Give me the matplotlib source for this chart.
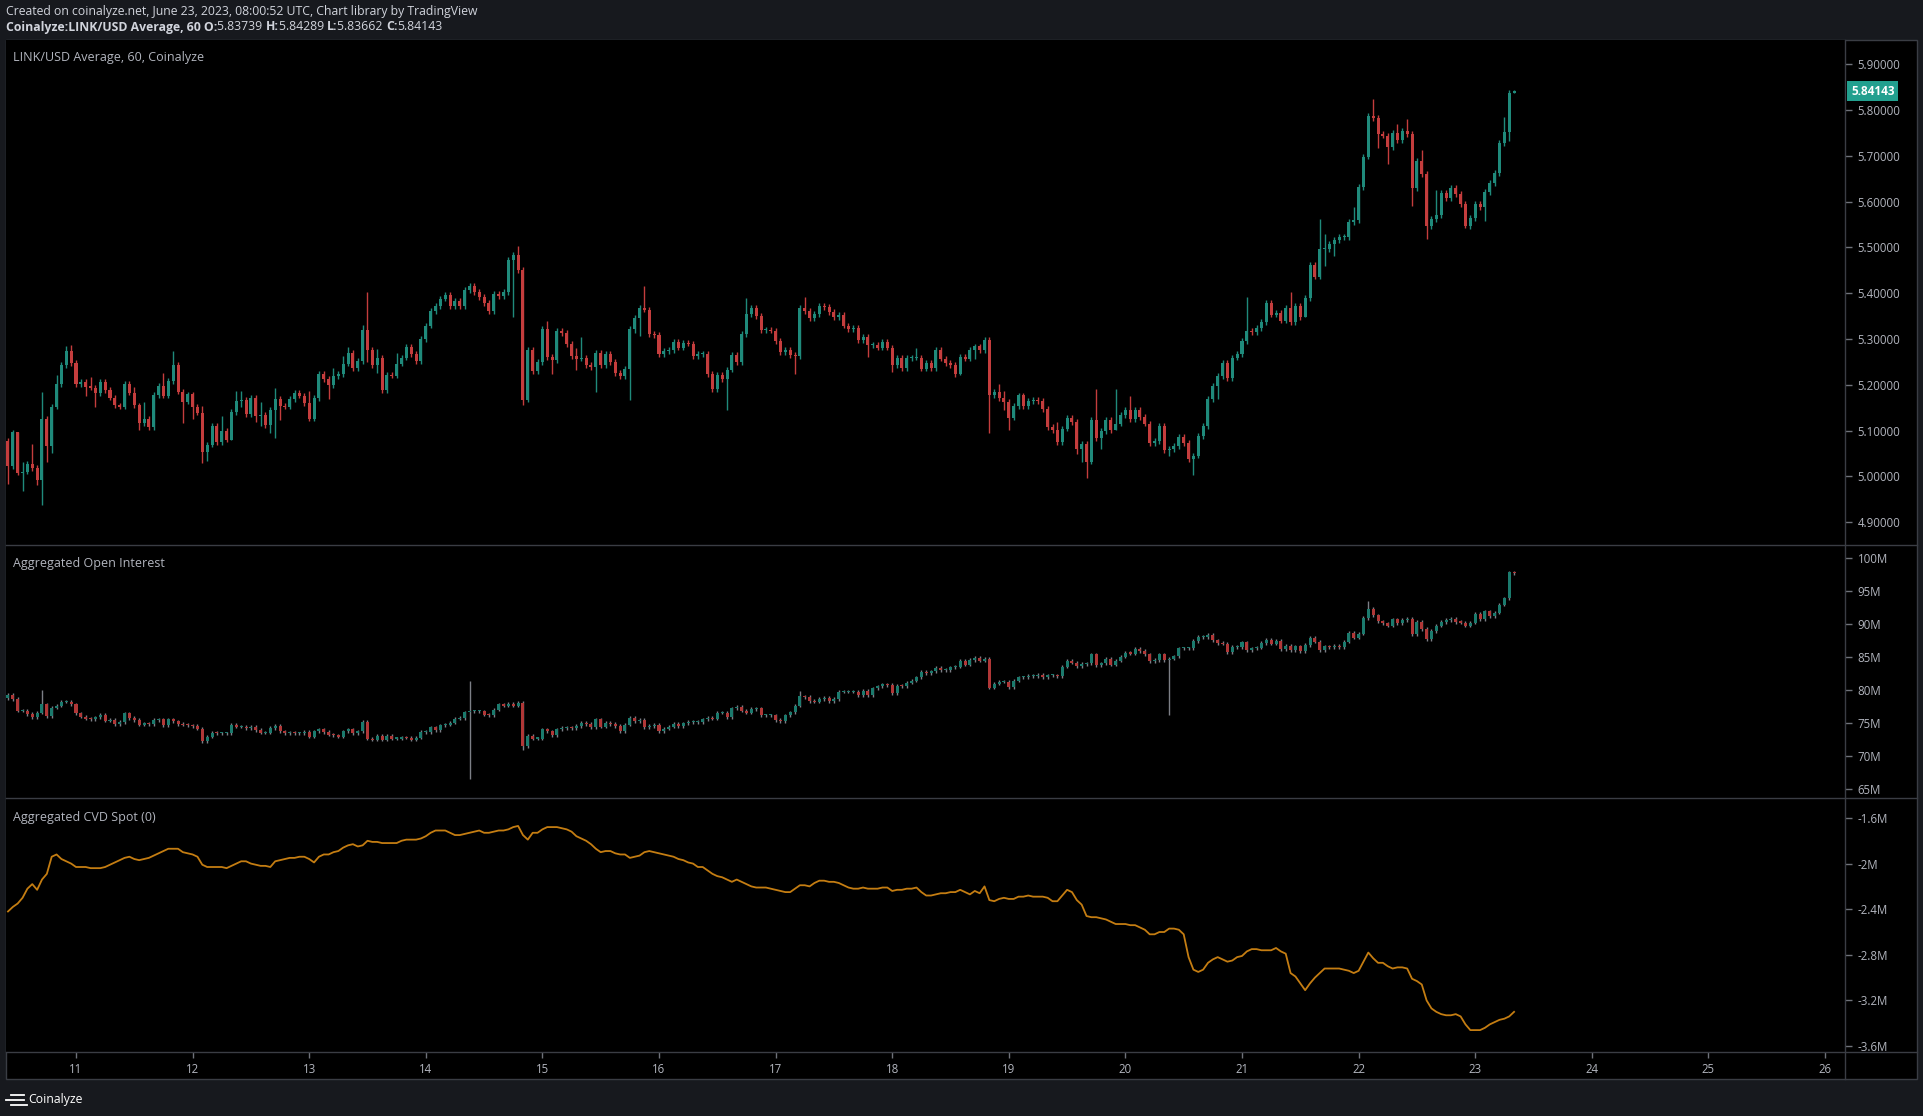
import numpy as np
import matplotlib.pyplot as plt
from matplotlib.patches import Rectangle
from matplotlib.lines import Line2D
from matplotlib.transforms import blended_transform_factory

plt.rcParams['font.family'] = ['Open Sans', 'DejaVu Sans']

# hourly bars, first one June 10 10:00 UTC, last one June 23 08:00 UTC
start_day = 10 + 10 / 24

# LINK/USD closes, one row per day
price_open0 = 5.077
price_close = [
    5.023, 5.096, 5.008, 5.010, 5.027, 5.018, 4.991, 5.125, 5.067, 5.152, 5.202, 5.243, 5.274, 5.247,
    5.202, 5.206, 5.196, 5.194, 5.181, 5.206, 5.189, 5.172, 5.155, 5.152, 5.202, 5.183, 5.155, 5.117, 5.126, 5.108, 5.178, 5.197, 5.176, 5.208, 5.243, 5.185, 5.163, 5.179,
    5.152, 5.139, 5.054, 5.069, 5.110, 5.074, 5.100, 5.080, 5.141, 5.165, 5.167, 5.136, 5.171, 5.131, 5.135, 5.112, 5.145, 5.169, 5.154, 5.152, 5.169, 5.182, 5.176, 5.160,
    5.126, 5.171, 5.224, 5.213, 5.200, 5.219, 5.224, 5.246, 5.270, 5.237, 5.252, 5.320, 5.276, 5.243, 5.259, 5.189, 5.222, 5.220, 5.246, 5.259, 5.283, 5.267, 5.252, 5.300,
    5.329, 5.361, 5.372, 5.388, 5.396, 5.372, 5.383, 5.372, 5.407, 5.416, 5.403, 5.392, 5.379, 5.361, 5.398, 5.394, 5.403, 5.473, 5.484, 5.451, 5.167, 5.276, 5.229, 5.250,
    5.322, 5.261, 5.254, 5.318, 5.313, 5.289, 5.263, 5.257, 5.259, 5.243, 5.239, 5.270, 5.243, 5.268, 5.250, 5.226, 5.219, 5.235, 5.322, 5.346, 5.368, 5.364, 5.311, 5.309,
    5.267, 5.274, 5.276, 5.293, 5.281, 5.291, 5.290, 5.263, 5.267, 5.267, 5.224, 5.191, 5.221, 5.213, 5.233, 5.265, 5.250, 5.311, 5.354, 5.368, 5.350, 5.320, 5.320, 5.318,
    5.296, 5.272, 5.276, 5.265, 5.263, 5.368, 5.361, 5.346, 5.355, 5.372, 5.370, 5.359, 5.348, 5.353, 5.329, 5.322, 5.324, 5.298, 5.304, 5.287, 5.287, 5.281, 5.293, 5.281,
    5.243, 5.259, 5.237, 5.258, 5.259, 5.259, 5.235, 5.247, 5.237, 5.276, 5.257, 5.248, 5.243, 5.224, 5.261, 5.257, 5.276, 5.284, 5.276, 5.298, 5.178, 5.184, 5.171, 5.163,
    5.128, 5.154, 5.177, 5.154, 5.165, 5.167, 5.165, 5.147, 5.108, 5.101, 5.075, 5.104, 5.128, 5.119, 5.060, 5.071, 5.032, 5.123, 5.084, 5.099, 5.124, 5.101, 5.115, 5.134,
    5.145, 5.125, 5.145, 5.130, 5.115, 5.073, 5.077, 5.110, 5.058, 5.060, 5.066, 5.086, 5.073, 5.038, 5.045, 5.088, 5.110, 5.169, 5.198, 5.219, 5.248, 5.215, 5.259, 5.267,
    5.296, 5.318, 5.315, 5.324, 5.337, 5.379, 5.353, 5.357, 5.340, 5.368, 5.337, 5.372, 5.348, 5.390, 5.462, 5.436, 5.497, 5.497, 5.508, 5.516, 5.523, 5.523, 5.556, 5.560,
    5.632, 5.698, 5.787, 5.783, 5.748, 5.744, 5.719, 5.750, 5.735, 5.754, 5.748, 5.630, 5.689, 5.660, 5.547, 5.562, 5.571, 5.619, 5.608, 5.630, 5.617, 5.595, 5.547, 5.564,
    5.595, 5.588, 5.621, 5.641, 5.663, 5.728, 5.752, 5.83739, 5.84143,
]
# long wicks (bar index -> value)
price_high = {2: 5.093, 3: 5.032, 5: 5.071, 7: 5.184, 10: 5.222, 12: 5.285, 13: 5.287, 17: 5.218,
              26: 5.195, 28: 5.163, 32: 5.226, 34: 5.274, 40: 5.154, 44: 5.132, 47: 5.187, 48: 5.187,
              52: 5.163, 55: 5.193, 62: 5.187, 67: 5.237, 69: 5.263, 70: 5.283, 73: 5.331, 74: 5.403,
              76: 5.278, 80: 5.270, 105: 5.503, 111: 5.339, 117: 5.280, 118: 5.305, 131: 5.416,
              152: 5.390, 164: 5.392, 187: 5.281, 204: 5.202, 205: 5.187, 216: 5.119, 224: 5.191,
              228: 5.191, 231: 5.176, 255: 5.392, 264: 5.403, 270: 5.562, 271: 5.529, 277: 5.588,
              281: 5.824, 286: 5.770, 288: 5.781, 291: 5.713, 294: 5.626, 308: 5.785, 310: 5.84289}
price_low = {0: 4.984, 3: 4.969, 6: 4.981, 7: 4.938, 8: 5.032, 9: 5.050, 16: 5.176, 18: 5.152,
             27: 5.101, 36: 5.117, 38: 5.125, 40: 5.030, 41: 5.034, 46: 5.080, 48: 5.152, 51: 5.119,
             52: 5.110, 54: 5.095, 55: 5.084, 56: 5.123, 64: 5.165, 66: 5.169, 74: 5.250, 76: 5.226,
             104: 5.349, 106: 5.155, 107: 5.163, 112: 5.224, 117: 5.233, 121: 5.184, 128: 5.167,
             129: 5.313, 130: 5.307, 148: 5.145, 162: 5.224, 177: 5.261, 182: 5.228, 196: 5.222,
             199: 5.257, 202: 5.095, 205: 5.145, 206: 5.101, 220: 5.049, 221: 5.032, 222: 4.997,
             225: 5.060, 228: 5.101, 239: 5.045, 244: 5.003, 249: 5.169, 267: 5.370, 271: 5.460,
             273: 5.481, 282: 5.717, 284: 5.682, 289: 5.591, 292: 5.519, 300: 5.543, 304: 5.558,
             309: 5.733, 310: 5.83662}

# aggregated open interest, millions USD
oi_open0 = 78.7
oi_close = [
    79.2, 78.6, 76.8, 76.8, 76.3, 75.8, 76.5, 77.8, 76.0, 77.3, 77.6, 78.2, 78.2, 77.8,
    76.4, 75.9, 75.6, 75.5, 75.8, 76.2, 75.3, 75.4, 74.8, 75.1, 76.4, 75.7, 75.4, 74.7, 74.9, 74.8, 75.4, 75.5, 74.6, 75.5, 75.2, 74.8, 74.7, 74.6,
    74.5, 74.1, 72.2, 72.9, 73.5, 73.4, 73.4, 73.4, 74.7, 74.4, 74.4, 74.2, 74.4, 73.9, 73.5, 73.5, 74.2, 74.5, 73.7, 73.4, 73.5, 73.4, 73.4, 73.6,
    72.9, 73.7, 74.0, 73.6, 73.2, 73.1, 72.9, 73.7, 74.0, 73.4, 73.7, 75.1, 72.6, 72.4, 73.0, 72.4, 73.0, 72.6, 72.6, 72.8, 72.7, 72.4, 72.7, 73.6,
    73.6, 74.3, 73.9, 74.6, 74.7, 75.0, 75.6, 75.7, 76.6, 76.7, 76.7, 76.7, 76.2, 76.1, 77.0, 77.8, 77.6, 77.9, 77.6, 78.0, 71.4, 73.0, 72.6, 72.6,
    74.0, 73.7, 73.1, 74.0, 74.2, 74.3, 74.2, 74.5, 75.0, 74.8, 74.3, 75.5, 74.4, 75.0, 74.8, 74.5, 73.7, 74.7, 75.7, 75.2, 75.4, 74.3, 74.5, 74.7,
    73.7, 74.1, 74.4, 74.8, 74.5, 74.9, 75.1, 75.1, 75.1, 75.5, 75.7, 75.6, 76.5, 76.5, 75.8, 77.2, 77.4, 76.8, 76.5, 77.1, 77.2, 76.1, 76.1, 76.1,
    75.4, 75.2, 76.1, 76.6, 77.6, 79.0, 78.9, 78.3, 78.2, 78.6, 78.8, 78.3, 78.6, 79.7, 79.7, 79.7, 79.7, 79.2, 79.8, 79.2, 80.2, 80.5, 80.8, 80.7,
    79.5, 80.6, 80.5, 81.1, 81.4, 81.9, 82.7, 82.5, 82.8, 83.3, 83.0, 83.0, 83.4, 83.5, 84.4, 83.8, 84.5, 84.8, 84.4, 84.7, 80.3, 80.9, 81.2, 81.2,
    80.4, 81.4, 81.9, 81.9, 82.1, 82.1, 82.3, 81.9, 82.2, 82.2, 82.1, 83.5, 84.4, 84.1, 83.6, 83.9, 84.0, 85.4, 83.7, 84.0, 84.7, 83.8, 84.4, 85.0,
    85.6, 85.5, 86.2, 85.9, 85.4, 84.3, 84.5, 85.4, 84.5, 84.7, 85.1, 86.3, 86.3, 86.3, 87.4, 88.0, 88.0, 88.3, 87.5, 87.1, 87.0, 85.7, 86.5, 86.5,
    87.2, 86.0, 86.3, 86.4, 87.1, 87.6, 87.0, 87.4, 86.2, 86.7, 86.0, 86.6, 85.9, 86.8, 87.9, 87.3, 86.0, 86.6, 86.5, 86.7, 86.5, 87.3, 88.6, 87.9,
    88.5, 90.9, 92.3, 91.3, 90.4, 90.1, 89.7, 90.7, 90.1, 90.6, 90.8, 88.4, 90.3, 89.2, 87.7, 88.9, 89.7, 90.3, 90.6, 90.8, 90.3, 90.2, 89.7, 90.2,
    91.5, 90.7, 91.9, 91.2, 91.7, 92.9, 93.9, 97.8, 97.7,
]
oi_high = {7: 79.96, 95: 81.3, 163: 79.8, 280: 93.5}
oi_low = {95: 66.5, 106: 70.9, 239: 76.1}

# aggregated spot CVD, millions
cvd = [
    -2.42, -2.38, -2.35, -2.30, -2.22, -2.18, -2.23, -2.14, -2.09, -1.94, -1.92, -1.96, -1.98, -2.00,
    -2.03, -2.03, -2.03, -2.04, -2.04, -2.04, -2.03, -2.01, -1.99, -1.97, -1.95, -1.94, -1.96, -1.97, -1.96, -1.95, -1.93, -1.91, -1.89, -1.87, -1.87, -1.87, -1.90, -1.91,
    -1.92, -1.94, -2.01, -2.03, -2.03, -2.03, -2.03, -2.04, -2.02, -2.00, -1.98, -1.98, -2.00, -2.01, -2.02, -2.02, -2.03, -1.98, -1.97, -1.96, -1.95, -1.95, -1.94, -1.94,
    -1.96, -1.99, -1.94, -1.92, -1.92, -1.90, -1.89, -1.86, -1.84, -1.83, -1.85, -1.84, -1.80, -1.81, -1.81, -1.82, -1.82, -1.82, -1.82, -1.80, -1.79, -1.79, -1.79, -1.78,
    -1.76, -1.73, -1.71, -1.71, -1.71, -1.73, -1.75, -1.75, -1.74, -1.73, -1.72, -1.71, -1.73, -1.73, -1.72, -1.71, -1.71, -1.70, -1.68, -1.67, -1.75, -1.79, -1.73, -1.73,
    -1.70, -1.68, -1.68, -1.68, -1.69, -1.70, -1.72, -1.76, -1.78, -1.80, -1.83, -1.87, -1.90, -1.89, -1.89, -1.91, -1.92, -1.92, -1.95, -1.94, -1.93, -1.90, -1.89, -1.90,
    -1.91, -1.92, -1.93, -1.94, -1.96, -1.97, -1.99, -2.00, -2.03, -2.03, -2.06, -2.09, -2.11, -2.12, -2.14, -2.16, -2.14, -2.16, -2.18, -2.20, -2.21, -2.21, -2.21, -2.22,
    -2.23, -2.24, -2.25, -2.25, -2.22, -2.19, -2.19, -2.20, -2.17, -2.15, -2.15, -2.16, -2.16, -2.17, -2.19, -2.21, -2.22, -2.22, -2.21, -2.22, -2.22, -2.22, -2.21, -2.21,
    -2.24, -2.23, -2.23, -2.22, -2.22, -2.21, -2.25, -2.28, -2.28, -2.27, -2.26, -2.26, -2.25, -2.25, -2.23, -2.25, -2.27, -2.24, -2.26, -2.20, -2.32, -2.33, -2.31, -2.30,
    -2.31, -2.31, -2.29, -2.29, -2.28, -2.29, -2.29, -2.29, -2.30, -2.33, -2.33, -2.28, -2.23, -2.25, -2.32, -2.36, -2.46, -2.47, -2.47, -2.48, -2.49, -2.51, -2.53, -2.53,
    -2.53, -2.54, -2.54, -2.56, -2.58, -2.62, -2.62, -2.60, -2.60, -2.57, -2.57, -2.58, -2.62, -2.82, -2.93, -2.95, -2.93, -2.87, -2.84, -2.82, -2.84, -2.86, -2.85, -2.82,
    -2.81, -2.77, -2.75, -2.75, -2.76, -2.76, -2.76, -2.74, -2.77, -2.79, -2.96, -2.99, -3.05, -3.11, -3.05, -3.00, -2.96, -2.92, -2.92, -2.92, -2.92, -2.93, -2.94, -2.96,
    -2.94, -2.86, -2.78, -2.83, -2.87, -2.87, -2.90, -2.92, -2.91, -2.91, -2.92, -3.01, -3.03, -3.06, -3.20, -3.27, -3.30, -3.32, -3.33, -3.33, -3.32, -3.34, -3.41, -3.46,
    -3.46, -3.46, -3.44, -3.41, -3.39, -3.37, -3.36, -3.34, -3.30,
]

price_ticks = [4.9, 5.0, 5.1, 5.2, 5.3, 5.4, 5.5, 5.6, 5.7, 5.8, 5.9]
oi_ticks = [65, 70, 75, 80, 85, 90, 95, 100]
cvd_ticks = [-1.6, -2.0, -2.4, -2.8, -3.2, -3.6]
cvd_tick_labels = ['-1.6M', '-2M', '-2.4M', '-2.8M', '-3.2M', '-3.6M']
day_ticks = list(range(11, 27))

W, H = 1923, 1116
fig = plt.figure(figsize=(W / 100, H / 100), dpi=100, facecolor='#17191e')


def fx(px):
    return px / W


def fy(py):
    return 1 - py / H


frame_col = '#3a3d44'
label_col = '#b2b5be'
fig.add_artist(Rectangle((fx(6), fy(1079)), fx(1917) - fx(6), fy(40) - fy(1079),
                         transform=fig.transFigure, facecolor='black', edgecolor=frame_col,
                         linewidth=1, zorder=0))

left, right = fx(6), fx(1845)
ax1 = fig.add_axes([left, fy(545), right - left, fy(40) - fy(545)])
ax2 = fig.add_axes([left, fy(798), right - left, fy(545) - fy(798)])
ax3 = fig.add_axes([left, fy(1052), right - left, fy(798) - fy(1052)])

xlim = (10.3997, 26.1715)
for ax in (ax1, ax2, ax3):
    ax.set_facecolor('black')
    ax.set_xlim(*xlim)
    for s in ax.spines.values():
        s.set_visible(False)
    ax.yaxis.tick_right()
    ax.tick_params(axis='y', length=5, width=1, color='#6f727a', labelcolor=label_col,
                   labelsize=8.3, pad=4)

ax1.set_ylim(4.850, 5.953)
ax2.set_ylim(63.57, 101.97)
ax3.set_ylim(-3.652, -1.425)


def draw_candles(ax, first_open, closes, highs, lows, pad, min_body, up, down, wick=None):
    closes = np.asarray(closes, dtype=float)
    opens = np.concatenate([[first_open], closes[:-1]])
    t = start_day + np.arange(len(closes)) / 24
    top = np.maximum(opens, closes)
    bot = np.minimum(opens, closes)
    hi = top + pad
    lo = bot - pad
    for i, v in highs.items():
        hi[i] = max(v, top[i])
    for i, v in lows.items():
        lo[i] = min(v, bot[i])
    colors = np.where(closes >= opens, up, down)
    ax.vlines(t, lo, hi, colors=wick if wick else colors, linewidth=1, zorder=2)
    ax.bar(t, np.maximum(top - bot, min_body), bottom=bot, width=0.62 / 24,
           color=colors, linewidth=0, zorder=3)


draw_candles(ax1, price_open0, price_close, price_high, price_low, 0.006, 0.0022,
             '#1f8a7b', '#c43d3d')
draw_candles(ax2, oi_open0, oi_close, oi_high, oi_low, 0.25, 0.16,
             '#1b7a6d', '#b03737', wick='#7c7f86')

t = start_day + np.arange(len(cvd)) / 24
ax3.plot(t, cvd, color='#c47d12', linewidth=1.3)

ax1.set_yticks(price_ticks)
ax1.set_yticklabels(['%.5f' % v for v in price_ticks])
ax2.set_yticks(oi_ticks)
ax2.set_yticklabels(['%dM' % v for v in oi_ticks])
ax3.set_yticks(cvd_ticks)
ax3.set_yticklabels(cvd_tick_labels)

for ax in (ax1, ax2):
    ax.set_xticks([])
ax3.set_xticks(day_ticks)
ax3.set_xticklabels([str(d) for d in day_ticks])
ax3.tick_params(axis='x', length=4, width=1, color='#6f727a', labelcolor=label_col,
                labelsize=8.3, pad=4)

# last price label on the price scale
last = price_close[-1]
tr = blended_transform_factory(ax1.transAxes, ax1.transData)
ax1.text(1 + 6 / (1845 - 6), last, '%.5f' % last, transform=tr, ha='left', va='center',
         color='white', fontsize=8.5, fontweight='bold', clip_on=False,
         bbox=dict(boxstyle='square,pad=0.32', facecolor='#22a08f', edgecolor='none'))

# panel separators and price scale border
for y in (545, 798, 1052):
    fig.add_artist(Line2D([fx(6), fx(1917)], [fy(y), fy(y)], color=frame_col, linewidth=1))
fig.add_artist(Line2D([fx(1845), fx(1845)], [fy(40), fy(1079)], color=frame_col, linewidth=1))

# panel titles
title_size = 9.0
fig.text(fx(13), fy(58), 'LINK/USD Average, 60, Coinalyze', color=label_col, fontsize=title_size, va='center')
fig.text(fx(13), fy(564), 'Aggregated Open Interest', color=label_col, fontsize=title_size, va='center')
fig.text(fx(13), fy(818), 'Aggregated CVD Spot (0)', color=label_col, fontsize=title_size, va='center')

# header
hdr_col = '#d1d4dc'
hdr_size = 8.85
fig.text(fx(6), fy(11), 'Created on coinalyze.net, June 23, 2023, 08:00:52 UTC, Chart library by TradingView',
         color=hdr_col, fontsize=hdr_size, va='center')
pieces = [('Coinalyze:LINK/USD Average, 60 O:', 'bold'), ('5.83739 ', 'normal'), ('H:', 'bold'),
          ('5.84289 ', 'normal'), ('L:', 'bold'), ('5.83662 ', 'normal'), ('C:', 'bold'),
          ('5.84143', 'normal')]
renderer = fig.canvas.get_renderer()
x = 6
for s, w in pieces:
    txt = fig.text(fx(x), fy(27), s.replace(' ', '\u00a0'), color=hdr_col, fontsize=hdr_size,
                   fontweight=w, va='center')
    x += txt.get_window_extent(renderer).width

# footer logo and name
for y0, x0, x1 in ((1095, 11, 24), (1100, 6, 24), (1105, 11, 27)):
    fig.add_artist(Line2D([fx(x0), fx(x1)], [fy(y0), fy(y0)], color='white', linewidth=1.3))
fig.text(fx(28), fy(1100), 'Coinalyze', color='white', fontsize=8.8, va='center')

fig.savefig('out.png', dpi=100, facecolor=fig.get_facecolor())
